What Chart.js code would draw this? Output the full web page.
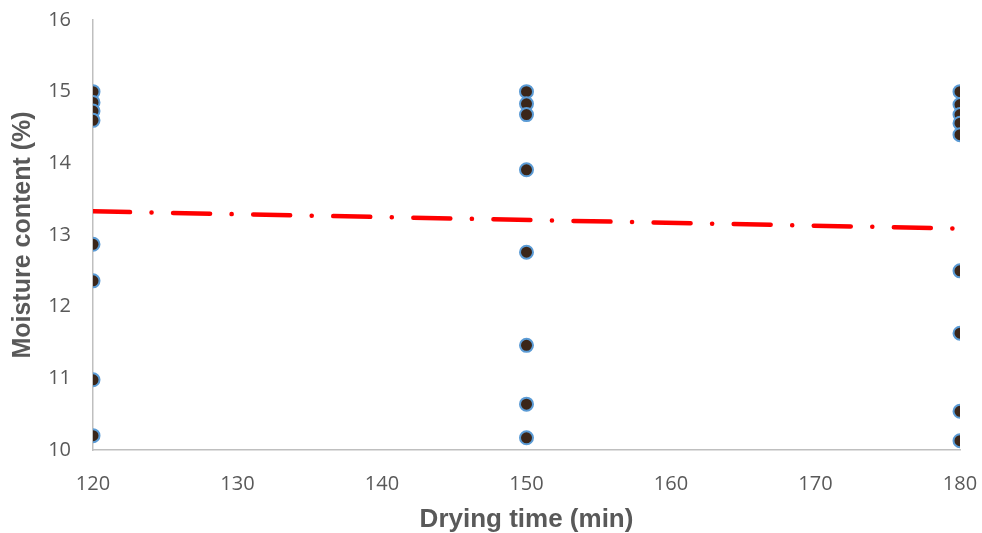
<!DOCTYPE html>
<html>
<head>
<meta charset="utf-8">
<script src="https://cdn.jsdelivr.net/npm/chart.js@4/dist/chart.umd.min.js"></script>
<style>
  html, body { margin: 0; padding: 0; background: #fff; }
  canvas { display: block; }
</style>
</head>
<body>
<canvas id="chart" width="982" height="533"></canvas>
<script>
// drying time groups (min) and the moisture readings at each one
const dryingTimes = [120, 150, 180];
const moisture120 = [15.0, 14.85, 14.73, 14.6, 12.87, 12.36, 10.98, 10.2];
const moisture150 = [15.0, 14.83, 14.68, 13.91, 12.76, 11.46, 10.64, 10.17];
const moisture180 = [15.0, 14.82, 14.68, 14.56, 14.4, 12.5, 11.63, 10.54, 10.13];

// linear trend line end points
const trendX = [120, 180];
const trendY = [13.33, 13.09];

const xTicks = [120, 130, 140, 150, 160, 170, 180];
const yTicks = [10, 11, 12, 13, 14, 15, 16];

const groups = [moisture120, moisture150, moisture180];
const points = [];
groups.forEach((vals, i) => {
  vals.forEach(v => points.push({ x: dryingTimes[i], y: v }));
});
const trendPoints = trendX.map((x, i) => ({ x: x, y: trendY[i] }));

const textGrey = '#595959';
const axisGrey = '#bfbfbf';
const tickFont = '"Open Sans", "DejaVu Sans", sans-serif';
const titleFont = '"Liberation Sans", Arial, sans-serif';

function drawChart() {
  new Chart(document.getElementById('chart').getContext('2d'), {
    type: 'scatter',
    data: {
      datasets: [
        {
          label: 'Moisture content',
          data: points,
          backgroundColor: '#3b2619',
          borderColor: '#5b9bd5',
          borderWidth: 2,
          pointRadius: 6.5,
          order: 2
        },
        {
          type: 'line',
          label: 'Linear trend',
          data: trendPoints,
          borderColor: '#ff0000',
          borderWidth: 4.5,
          borderDash: [37, 21.5, 0.1, 21.5],
          borderCapStyle: 'round',
          pointRadius: 0,
          fill: false,
          order: 1
        }
      ]
    },
    options: {
      responsive: false,
      animation: false,
      layout: { padding: { top: 20, right: 22, left: 0, bottom: 0 } },
      plugins: {
        legend: { display: false },
        tooltip: { enabled: false }
      },
      scales: {
        x: {
          type: 'linear',
          min: 120,
          max: 180,
          afterBuildTicks: (scale) => { scale.ticks = xTicks.map(v => ({ value: v })); },
          afterFit: (scale) => {
            scale.height = 83;
            scale.paddingLeft = 0;
            scale.paddingRight = 0;
          },
          grid: { display: false, drawTicks: false },
          border: { display: true, color: axisGrey, width: 1.5 },
          ticks: {
            padding: 22,
            color: textGrey,
            font: { family: tickFont, size: 20 },
            maxRotation: 0
          },
          title: {
            display: true,
            text: 'Drying time (min)',
            color: textGrey,
            font: { family: titleFont, size: 26, weight: 'bold', lineHeight: 1.05 },
            padding: { top: 4, bottom: 0 }
          }
        },
        y: {
          type: 'linear',
          min: 10,
          max: 16,
          afterBuildTicks: (scale) => { scale.ticks = yTicks.map(v => ({ value: v })); },
          afterFit: (scale) => {
            scale.width = 93;
            scale.paddingTop = 0;
            scale.paddingBottom = 0;
          },
          grid: { display: false, drawTicks: false },
          border: { display: true, color: axisGrey, width: 1.5 },
          ticks: {
            padding: 22,
            color: textGrey,
            font: { family: tickFont, size: 20 }
          },
          title: {
            display: true,
            text: 'Moisture content (%)',
            color: textGrey,
            font: { family: titleFont, size: 25, weight: 'bold', lineHeight: 1.2 },
            padding: { top: 8, bottom: 0 }
          }
        }
      }
    }
  });
}

// make sure the named fonts are ready before the canvas draws text
Promise.all([
  document.fonts.load('20px "Open Sans"'),
  document.fonts.load('bold 25px "Liberation Sans"')
]).then(drawChart, drawChart);
</script>
</body>
</html>
